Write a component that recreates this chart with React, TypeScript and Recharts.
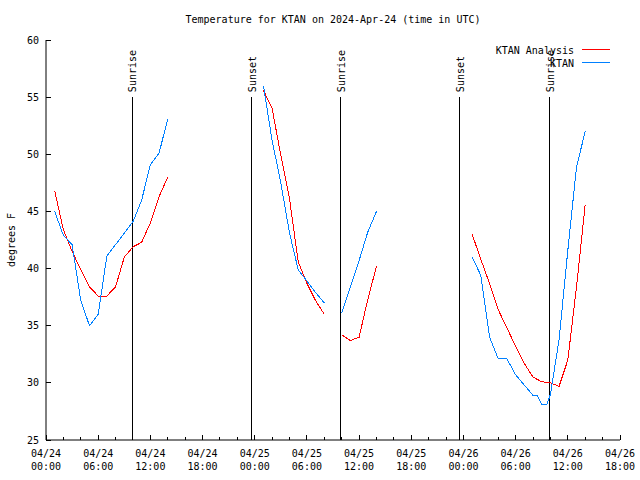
import React from 'react';
import { LineChart, Line, XAxis, YAxis, ReferenceLine } from 'recharts';

const FONT = '"DejaVu Sans Mono", "Liberation Mono", monospace';

// hours since 04/24 00:00 UTC, null = no data (breaks the line)
const analysisHours = [
  1, 2, 3, 4, 5, 6, 7, 8, 9, 10, 11, 12, 13, 14, 20,
  25, 26, 27, 28, 29, 30, 31, 32, 33,
  34, 35, 36, 37, 38, 44,
  49, 50, 51, 52, 53, 54, 55, 56, 57, 58, 59, 60, 61, 62,
];
const analysisTemps = [
  46.8, 43.4, 41.5, 39.9, 38.4, 37.6, 37.6, 38.4, 41.0, 41.9, 42.3, 44.0, 46.3, 48.0, null,
  55.6, 54.0, 49.9, 46.1, 40.6, 38.7, 37.2, 36.0, null,
  34.2, 33.7, 34.0, 37.3, 40.2, null,
  43.0, 40.8, 38.7, 36.4, 34.8, 33.2, 31.7, 30.5, 30.1, 30.0, 29.7, 32.0, 38.4, 45.6,
];

const obsHours = [
  1, 2, 3, 4, 5, 6, 7, 8, 9, 10, 11, 12, 13, 14, 20,
  25, 26, 27, 28, 29, 30, 31, 32, 33,
  34, 35, 36, 37, 38, 44,
  49, 50, 51, 52, 53, 54, 55, 56, 56.5, 57, 57.6, 58, 59, 60, 61, 62,
];
const obsTemps = [
  45.0, 42.9, 42.1, 37.2, 35.0, 36.0, 41.1, 42.1, 43.1, 44.1, 46.0, 49.1, 50.1, 53.1, null,
  56.0, 51.2, 47.5, 43.1, 39.9, 38.9, 37.9, 37.0, null,
  36.1, 38.4, 40.7, 43.2, 45.0, null,
  41.0, 39.4, 34.0, 32.1, 32.1, 30.7, 29.8, 28.9, 28.9, 28.1, 28.1, 29.0, 33.8, 41.6, 48.9, 52.0,
];

const sunEvents = ['Sunrise', 'Sunset', 'Sunrise', 'Sunset', 'Sunrise'];
const sunHours = [9.9, 23.6, 33.9, 47.6, 57.9];

const xTicks = [0, 2, 4, 6, 8, 10, 12, 14, 16, 18, 20, 22, 24, 26, 28, 30, 32, 34, 36, 38, 40, 42, 44, 46, 48, 50, 52, 54, 56, 58, 60, 62, 64, 66];
const tickDates = ['04/24', '04/24', '04/24', '04/24', '04/25', '04/25', '04/25', '04/25', '04/26', '04/26', '04/26', '04/26'];
const tickTimes = ['00:00', '06:00', '12:00', '18:00', '00:00', '06:00', '12:00', '18:00', '00:00', '06:00', '12:00', '18:00'];
const yTicks = [25, 30, 35, 40, 45, 50, 55, 60];

const analysisData = analysisHours.map((h, i) => ({ h, t: analysisTemps[i] }));
const obsData = obsHours.map((h, i) => ({ h, t: obsTemps[i] }));

const BottomTick = ({ x, y, payload }: any) => {
  const major = payload.value % 6 === 0;
  const i = payload.value / 6;
  return (
    <g>
      <line x1={x} x2={x} y1={y} y2={y - (major ? 5 : 3)} stroke="#000" shapeRendering="crispEdges" />
      {major && (
        <text x={x} y={y + 17} textAnchor="middle" fontFamily={FONT} fontSize={10} fill="#000">
          {tickDates[i]}
        </text>
      )}
      {major && (
        <text x={x} y={y + 29.5} textAnchor="middle" fontFamily={FONT} fontSize={10} fill="#000">
          {tickTimes[i]}
        </text>
      )}
    </g>
  );
};

const TopTick = ({ x, y, payload }: any) => {
  const major = payload.value % 6 === 0;
  return <line x1={x} x2={x} y1={y} y2={y + (major ? 5 : 3)} stroke="#000" shapeRendering="crispEdges" />;
};

const LeftTick = ({ x, y, payload }: any) => (
  <g>
    <line x1={x} x2={x + 5} y1={y} y2={y} stroke="#000" shapeRendering="crispEdges" />
    <text x={x - 7} y={y + 3.5} textAnchor="end" fontFamily={FONT} fontSize={10} fill="#000">
      {payload.value}
    </text>
  </g>
);

const RightTick = ({ x, y }: any) => (
  <line x1={x} x2={x - 5} y1={y} y2={y} stroke="#000" shapeRendering="crispEdges" />
);

const SunLabel = ({ viewBox, text }: any) => {
  if (!viewBox) return null;
  const x = viewBox.x + 4.3;
  const y = viewBox.y - 5;
  return (
    <text transform={`translate(${x},${y}) rotate(-90)`} textAnchor="start" fontFamily={FONT} fontSize={10} fill="#000">
      {text}
    </text>
  );
};

export default function App() {
  return (
    <div style={{ position: 'absolute', left: 0, top: 0, width: 640, height: 480, background: '#fff' }}>
      <LineChart width={640} height={480} margin={{ top: 40, right: 20, bottom: 0, left: 0 }}>
        <XAxis
          dataKey="h"
          type="number"
          domain={[0, 66]}
          ticks={xTicks}
          interval={0}
          height={40}
          tickSize={0}
          tickMargin={0}
          tickLine={false}
          axisLine={{ stroke: '#000' }}
          tick={<BottomTick />}
          allowDataOverflow
        />
        <XAxis
          xAxisId="top"
          orientation="top"
          dataKey="h"
          type="number"
          domain={[0, 66]}
          ticks={xTicks}
          interval={0}
          height={0}
          tickSize={0}
          tickMargin={0}
          tickLine={false}
          axisLine={{ stroke: '#000' }}
          tick={<TopTick />}
        />
        <YAxis
          type="number"
          domain={[25, 60]}
          ticks={yTicks}
          interval={0}
          width={46}
          tickSize={0}
          tickMargin={0}
          tickLine={false}
          axisLine={{ stroke: '#000' }}
          tick={<LeftTick />}
          allowDataOverflow
        />
        <YAxis
          yAxisId="right"
          orientation="right"
          type="number"
          domain={[25, 60]}
          ticks={yTicks}
          interval={0}
          width={0}
          tickSize={0}
          tickMargin={0}
          tickLine={false}
          axisLine={{ stroke: '#000' }}
          tick={<RightTick />}
        />
        {sunHours.map((h, i) => (
          <ReferenceLine
            key={`sun-${i}`}
            segment={[{ x: h, y: 25 }, { x: h, y: 55 }]}
            stroke="#000"
            strokeWidth={1}
            shapeRendering="crispEdges"
            label={(p: any) => <SunLabel {...p} text={sunEvents[i]} />}
          />
        ))}
        <Line
          data={analysisData}
          dataKey="t"
          name="KTAN Analysis"
          type="linear"
          stroke="#ff0000"
          strokeWidth={1}
          shapeRendering="crispEdges"
          dot={false}
          activeDot={false}
          connectNulls={false}
          isAnimationActive={false}
        />
        <Line
          data={obsData}
          dataKey="t"
          name="KTAN"
          type="linear"
          stroke="#0080ff"
          strokeWidth={1}
          shapeRendering="crispEdges"
          dot={false}
          activeDot={false}
          connectNulls={false}
          isAnimationActive={false}
        />
      </LineChart>
      <svg width={640} height={480} style={{ position: 'absolute', left: 0, top: 0, pointerEvents: 'none' }}>
        <text x={333} y={23} textAnchor="middle" fontFamily={FONT} fontSize={10} fill="#000">
          Temperature for KTAN on 2024-Apr-24 (time in UTC)
        </text>
        <text transform="translate(15,240) rotate(-90)" textAnchor="middle" fontFamily={FONT} fontSize={10} fill="#000">
          degrees F
        </text>
        <text x={574} y={54} textAnchor="end" fontFamily={FONT} fontSize={10} fill="#000">
          KTAN Analysis
        </text>
        <line x1={582} x2={610} y1={49.5} y2={49.5} stroke="#ff0000" />
        <text x={574} y={66.5} textAnchor="end" fontFamily={FONT} fontSize={10} fill="#000">
          KTAN
        </text>
        <line x1={582} x2={610} y1={62.5} y2={62.5} stroke="#0080ff" />
      </svg>
    </div>
  );
}
